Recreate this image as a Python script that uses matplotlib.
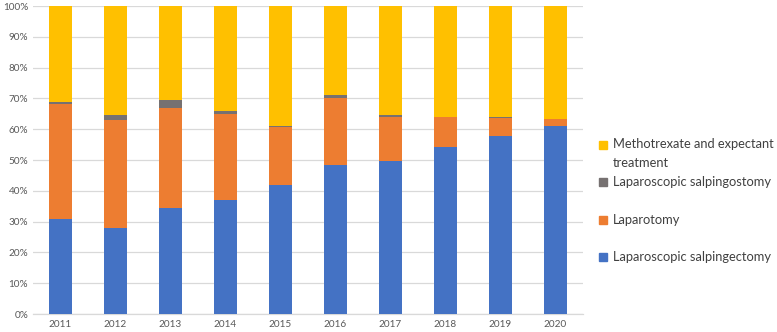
import matplotlib
matplotlib.use("Agg")
import matplotlib.pyplot as plt
import numpy as np
from matplotlib.patches import Rectangle

years = ["2011", "2012", "2013", "2014", "2015", "2016", "2017", "2018", "2019", "2020"]
salpingectomy = [30.8, 28.0, 34.3, 37.1, 42.0, 48.4, 49.6, 54.1, 57.7, 60.9]
laparotomy = [37.5, 35.1, 32.7, 27.7, 18.7, 21.7, 14.5, 9.7, 5.8, 2.4]
salpingostomy = [0.5, 1.5, 2.4, 1.0, 0.2, 0.9, 0.4, 0.2, 0.3, 0.1]
methotrexate = [100 - a - b - c for a, b, c in zip(salpingectomy, laparotomy, salpingostomy)]

series_names = ["Laparoscopic salpingectomy", "Laparotomy",
                "Laparoscopic salpingostomy", "Methotrexate and expectant\ntreatment"]
colors = ["#4472C4", "#ED7D31", "#767171", "#FFC000"]
yticks = [0, 10, 20, 30, 40, 50, 60, 70, 80, 90, 100]

plt.rcParams['font.family'] = ['Lato', 'DejaVu Sans']

fig = plt.figure(figsize=(7.77, 3.32), dpi=100)
ax = fig.add_axes([33/777, 1-314/332, (583-33)/777, (314-6)/332])

x = np.arange(len(years))
bottom = np.zeros(len(years))
for vals, col in zip([salpingectomy, laparotomy, salpingostomy, methotrexate], colors):
    ax.bar(x, vals, bottom=bottom, width=0.415, color=col, zorder=3)
    bottom += np.array(vals)

ax.set_xlim(-0.5, len(years) - 0.5)
ax.set_ylim(0, 100)
ax.set_yticks(yticks)
ax.set_yticklabels([f"{t}%" for t in yticks])
ax.set_xticks(x)
ax.set_xticklabels(years)
ax.tick_params(axis='both', length=0, labelsize=7.2, colors="#595959", pad=4)
ax.tick_params(axis='y', pad=3.5)
ax.grid(axis='y', color="#D9D9D9", linewidth=0.9, zorder=0)
for s in ["top", "right", "left"]:
    ax.spines[s].set_visible(False)
ax.spines["bottom"].set_color("#D9D9D9")
ax.spines["bottom"].set_linewidth(0.9)

# legend (manual, Excel-like)
text_y = [257, 220, 182, 153.5]
square_y = [257, 220, 182, 145]
for name, col, ty, sy in zip(series_names, colors, text_y, square_y):
    fig.patches.append(Rectangle((599/777, 1 - (sy + 4)/332), 8/777, 8/332,
                                 transform=fig.transFigure, color=col, figure=fig))
    fig.text(613/777, 1 - ty/332, name, fontsize=9.3, color="#404040", va="center",
             ha="left", linespacing=1.65)

fig.savefig("out.png", dpi=100)
